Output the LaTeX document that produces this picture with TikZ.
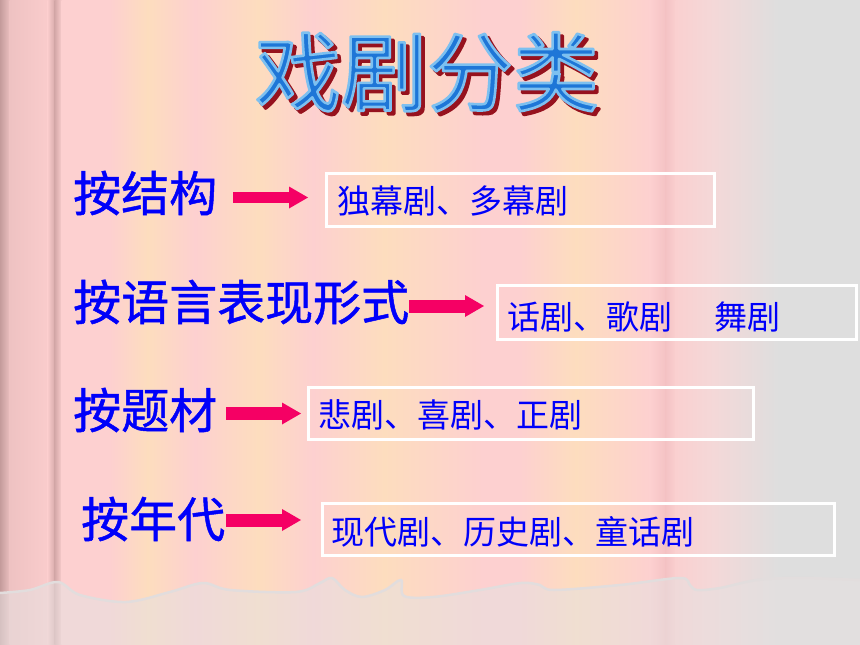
\documentclass[tikz,border=0pt]{standalone}
\usepackage{fontspec}
\newfontfamily\cjk{Noto Sans CJK SC}
\newfontfamily\cjkfb{Noto Sans CJK SC}[FakeBold=1]
\usetikzlibrary{arrows.meta}
\definecolor{cA}{RGB}{194,154,154}
\definecolor{cB}{RGB}{238,194,194}
\definecolor{cC}{RGB}{250,204,204}
\definecolor{cD}{RGB}{212,168,168}
\definecolor{pk}{RGB}{253,208,208}
\definecolor{pc}{RGB}{253,221,190}
\definecolor{fd}{RGB}{244,194,196}
\definecolor{pk2}{RGB}{250,208,208}
\definecolor{pg}{RGB}{244,216,216}
\definecolor{gy}{RGB}{222,222,222}
\definecolor{lowfill}{RGB}{230,225,225}
\definecolor{wavec}{RGB}{226,221,221}
\definecolor{tblue}{RGB}{30,118,215}
\definecolor{tshad}{RGB}{150,18,30}
\definecolor{lblue}{RGB}{0,0,250}
\definecolor{arrc}{RGB}{245,0,100}
\newcommand\strokeon[2]{\special{pdf:literal direct #1 RG 2 Tr #2 w 1 j}}
\newcommand\strokeoff{\special{pdf:literal direct 0 Tr}}
\tikzset{
  ttl/.style={font=\cjk\fontsize{86}{86}\selectfont, inner sep=0pt},
  lbl/.style={font=\cjkfb\fontsize{48}{48}\selectfont, text=lblue, inner sep=0pt, anchor=west},
  btxt/.style={font=\cjk\fontsize{33}{33}\selectfont, text=lblue, inner sep=0pt, anchor=west},
  boxst/.style={draw=white, line width=3pt, inner sep=0pt, rectangle},
  pinkarrow/.style={draw=arrc, line width=#1, -{Triangle[length=19pt,width=22pt,line width=0pt]}},
  pinkarrow/.default=12pt
}
\begin{document}
\begin{tikzpicture}[x=1pt,y=-1pt]
\useasboundingbox (0,0) rectangle (860,645);
% background stripes
\foreach \xa/\ca/\xb/\cb in {0/cA/10/cB,10/cB/48/cC,48/cC/55/cD,55/cD/62/pk,62/pk/110/pk,110/pk/148/pc,148/pc/195/pk,195/pk/258/pc,258/pc/313/pk,313/pk/384/pc,384/pc/483/pk,483/pk/520/pk,520/pk/576/pc,576/pc/650/pk,650/pk/666/fd,666/fd/676/pk2,676/pk2/713/pg,713/pg/779/gy,779/gy/860/gy}
  \shade[left color=\ca, right color=\cb] ({\xa-0.4},0) rectangle ({\xb+0.4},645);
% lower washed area and wave
\fill[lowfill, opacity=0.55] plot[smooth, tension=0.55] coordinates {(0,593) (30,590) (58,582) (80,595) (126,602) (170,592) (203,583) (230,590) (296,592) (320,583) (332,578) (345,590) (362,597) (385,590) (401,580) (404,596) (433,597) (480,590) (521,583) (540,585) (554,590) (620,585) (680,578) (690,585) (697,590) (720,588) (757,580) (800,578) (860,580)} -- (860,645) -- (0,645) -- cycle;
\draw[wavec, line width=2.5pt] plot[smooth, tension=0.55] coordinates {(0,593) (30,590) (58,582) (80,595) (126,602) (170,592) (203,583) (230,590) (296,592) (320,583) (332,578) (345,590) (362,597) (385,590) (401,580) (404,596) (433,597) (480,590) (521,583) (540,585) (554,590) (620,585) (680,578) (690,585) (697,590) (720,588) (757,580) (800,578) (860,580)};
% title: shadow, then outlined fill
\node[ttl, text=tshad] (tsh) at (430.5,75.5) {\strokeon{0.588 0.071 0.118}{3}戏剧分类\strokeoff};
\node[ttl, text=tblue] (title) at (427,72) {\strokeon{0.49 0.753 0.941}{2.6}戏剧分类\strokeoff};
% labels
\node[lbl] (l1) at (73,193) {按结构};
\node[lbl] (l2) at (73,302) {按语言表现形式};
\node[lbl] (l3) at (73,410) {按题材};
\node[lbl] (l4) at (81,519) {按年代};
% boxes
\node[boxst, minimum width=388pt, minimum height=53pt] (b1) at (520.5,200) {};
\node[boxst, minimum width=359pt, minimum height=54pt] (b2) at (677,312.5) {};
\node[boxst, minimum width=445pt, minimum height=52pt] (b3) at (531,413.5) {};
\node[boxst, minimum width=512pt, minimum height=52pt] (b4) at (578.5,529.5) {};
% box texts
\node[btxt] (t1) at (337,201) {独幕剧、多幕剧};
\node[btxt] (t2) at (507,317) {话剧、歌剧\hspace{42pt}舞剧};
\node[btxt] (t3) at (318,415) {悲剧、喜剧、正剧};
\node[btxt] (t4) at (331,532) {现代剧、历史剧、童话剧};
% arrows
\coordinate (a1s) at (233,197.5); \coordinate (a1e) at (308,197.5);
\coordinate (a2s) at (409,306);   \coordinate (a2e) at (484,306);
\coordinate (a3s) at (226,413.5); \coordinate (a3e) at (301,413.5);
\coordinate (a4s) at (226,520);   \coordinate (a4e) at (301,520);
\draw[pinkarrow=11pt] (a1s) -- (a1e);
\draw[pinkarrow=13pt] (a2s) -- (a2e);
\draw[pinkarrow=13pt] (a3s) -- (a3e);
\draw[pinkarrow=13pt] (a4s) -- (a4e);
\end{tikzpicture}
\end{document}
